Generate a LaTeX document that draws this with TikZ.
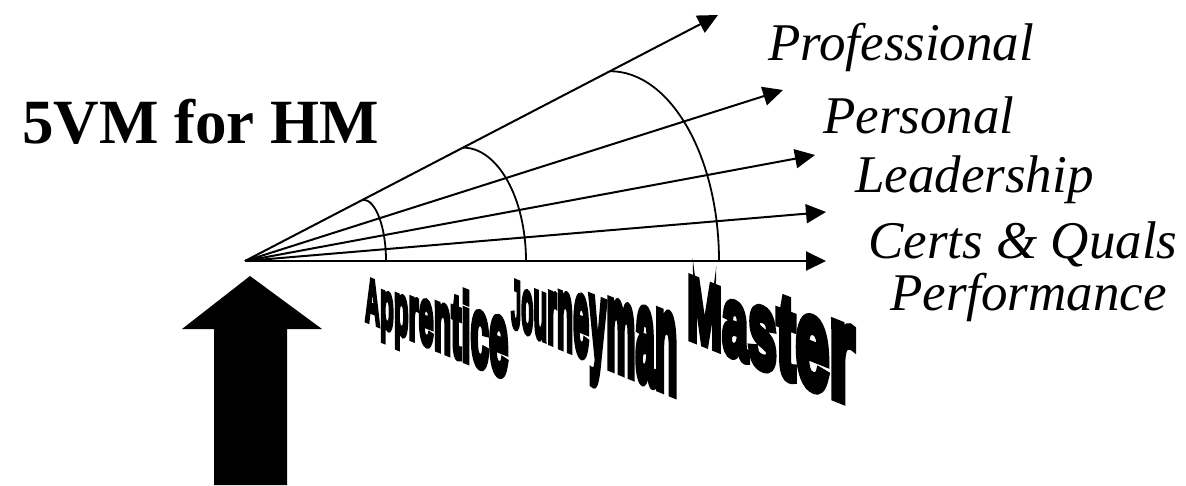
\documentclass[tikz,border=0pt]{standalone}
\usepackage{fontspec}
\usepackage{graphicx}
\usetikzlibrary{arrows.meta}
\newfontfamily\labfont{Liberation Serif}
\newfontfamily\wafontfam{Liberation Sans Bold}[FakeBold=8]
\newcommand\wafont{\wafontfam\fontsize{10}{12}\selectfont}
% #1 letters, #2 x0, #3 baseline y, #4 x-height of first letter, #5 growth per letter, #6 width factor, #7 name prefix, #8 slant
\newcommand\waword[8]{%
  \foreach \L [count=\n] in {#1}{%
    \pgfmathsetmacro\wasy{(#4+#5*(\n-1))/5.19}%
    \pgfmathsetmacro\wasx{\wasy*#6}%
    \ifnum\n=1
      \node[wordart,yslant=#8] (#7\n) at (#2,#3) {\scalebox{\wasx}[\wasy]{\wafont\L}};%
    \else
      \pgfmathtruncatemacro\wam{\n-1}%
      \node[wordart,yslant=#8] (#7\n) at (#7\wam.base east) {\scalebox{\wasx}[\wasy]{\wafont\L}};%
    \fi
  }%
}
\begin{document}
\begin{tikzpicture}[x=1pt,y=-1pt,
  fan/.style={line width=2pt,-{Triangle[length=20pt,width=19pt]}},
  levelarc/.style={line width=1.8pt},
  dimlabel/.style={anchor=base west,inner sep=0pt,font=\labfont\itshape\fontsize{53}{60}\selectfont},
  titlelabel/.style={anchor=base west,inner sep=0pt,font=\labfont\bfseries\fontsize{63}{70}\selectfont},
  wordart/.style={anchor=base west,inner sep=0pt},
  bigarrow/.style={fill=black}]
\useasboundingbox (0,0) rectangle (1186,485);
\fill[white] (0,0) rectangle (1186,485);

\node[titlelabel] (title) at (22,143) {5VM for HM};

\coordinate (O) at (245,261);
\coordinate (t1) at (718,15);
\coordinate (t2) at (783,90);
\coordinate (t3) at (815,155);
\coordinate (t4) at (826,212);
\coordinate (t5) at (826,261);

\draw[fan] (O) -- (t1);
\draw[fan] (O) -- (t2);
\draw[fan] (O) -- (t3);
\draw[fan] (O) -- (t4);
\draw[fan] (O) -- (t5);

% level arcs (quarter ellipses from the top ray down to the base ray)
\coordinate (a1) at (363,199.6);
\coordinate (a2) at (463,147.6);
\coordinate (a3) at (610,71.2);
\draw[levelarc] (a1) arc[start angle=-90,end angle=0,x radius=23,y radius=61.4];
\draw[levelarc] (a2) arc[start angle=-90,end angle=0,x radius=63,y radius=113.4];
\draw[levelarc] (a3) arc[start angle=-90,end angle=0,x radius=109,y radius=189.8];

\node[dimlabel] (professional) at (768,60) {Professional};
\node[dimlabel] (personal) at (823,133) {Personal};
\node[dimlabel] (leadership) at (855,192) {Leadership};
\node[dimlabel] (certs) at (868,258) {Certs \& Quals};
\node[dimlabel] (performance) at (890,310) {Performance};

\waword{A,p,p,r,e,n,t,i,c,e}{365}{320}{32}{2.4}{0.33}{app}{-0.40}
\waword{J,o,u,r,n,e,y,m,a,n}{511}{326}{35}{4.2}{0.26}{jou}{-0.41}
\waword{M,a,s,t,e,r}{687}{337}{46}{5}{0.47}{mas}{-0.40}

\fill[bigarrow] (250,276) -- (322,329) -- (287,329) -- (287,485) -- (214,485) -- (214,329) -- (182,329) -- cycle;
\end{tikzpicture}
\end{document}
